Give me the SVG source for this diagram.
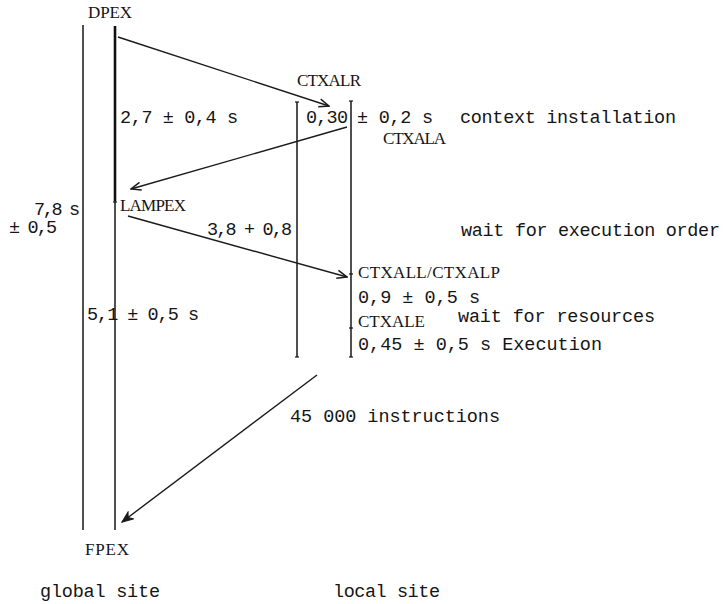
<svg xmlns="http://www.w3.org/2000/svg" width="724" height="604" viewBox="0 0 724 604">
  <style>
    .bg { fill: #ffffff; }
    .life { stroke: #161616; stroke-width: 1.5; fill: none; }
    .thick { stroke: #111111; stroke-width: 2.6; fill: none; }
    .tick { stroke: #161616; stroke-width: 1.2; }
    .msg { stroke: #1a1a1a; stroke-width: 1.4; fill: none; }
    .tt { font-family: "Liberation Mono", "DejaVu Sans Mono", monospace; font-size: 18.5px; fill: #151515; }
    .cap { font-family: "Liberation Serif", "DejaVu Serif", serif; font-size: 17px; fill: #151515; }
  </style>
  <defs>
    <marker id="open" viewBox="0 0 12 10" refX="11" refY="5" markerWidth="12" markerHeight="10" markerUnits="userSpaceOnUse" orient="auto">
      <path d="M1,1 L11,5 L1,9" fill="none" stroke="#1a1a1a" stroke-width="1.5"/>
    </marker>
    <marker id="solid" viewBox="0 0 12 10" refX="11" refY="5" markerWidth="13" markerHeight="11" markerUnits="userSpaceOnUse" orient="auto">
      <path d="M1,1 L11,5 L1,9 L4,5 Z" fill="#1a1a1a" stroke="#1a1a1a" stroke-width="1"/>
    </marker>
  </defs>
  <rect class="bg" x="0" y="0" width="724" height="604"/>

  <!-- global site: outer span line -->
  <g id="global-span">
    <line class="life" x1="83" y1="25" x2="83" y2="530"/>
    <text class="tt" x="34" y="215" textLength="46" lengthAdjust="spacing">7,8 s</text>
    <text class="tt" x="9" y="233" textLength="48" lengthAdjust="spacing">± 0,5</text>
  </g>

  <!-- global site: DPEX / LAMPEX / FPEX process line -->
  <g id="dpex">
    <line class="thick" x1="115" y1="26" x2="115" y2="201"/>
    <line class="life" x1="115" y1="201" x2="115" y2="530"/>
    <line class="tick" x1="113" y1="202" x2="117" y2="202"/>
    <text class="cap" x="88" y="18" textLength="44" lengthAdjust="spacing">DPEX</text>
    <text class="tt" x="120" y="123" textLength="118" lengthAdjust="spacing">2,7 ± 0,4 s</text>
  </g>

  <g id="lampex">
    <text class="cap" x="120" y="211" textLength="66" lengthAdjust="spacing">LAMPEX</text>
    <text class="tt" x="87" y="320" textLength="112" lengthAdjust="spacing">5,1 ± 0,5 s</text>
  </g>

  <g id="fpex">
    <text class="cap" x="85" y="555" textLength="44" lengthAdjust="spacing">FPEX</text>
  </g>

  <!-- local site: context span line -->
  <g id="local-span">
    <line class="life" x1="297" y1="102" x2="297" y2="357"/>
    <line class="tick" x1="295" y1="102" x2="299" y2="102"/>
    <line class="tick" x1="295" y1="357" x2="299" y2="357"/>
    <text class="tt" x="306" y="123" textLength="42" lengthAdjust="spacing">0,30</text>
  </g>

  <!-- local site: CTXAL process line -->
  <g id="ctxal">
    <line class="life" x1="351" y1="101" x2="351" y2="357"/>
    <line class="tick" x1="349" y1="101" x2="353" y2="101"/>
    <line class="tick" x1="349" y1="274" x2="353" y2="274"/>
    <line class="tick" x1="349" y1="328" x2="353" y2="328"/>
    <line class="tick" x1="349" y1="357" x2="353" y2="357"/>
    <text class="cap" x="297" y="86" textLength="64" lengthAdjust="spacing">CTXALR</text>
    <text class="tt" x="357" y="123" textLength="76" lengthAdjust="spacing">± 0,2 s</text>
    <text class="tt" x="460" y="123" textLength="216" lengthAdjust="spacing">context installation</text>
    <text class="cap" x="383" y="144" textLength="63" lengthAdjust="spacing">CTXALA</text>
    <text class="tt" x="461" y="236" textLength="259" lengthAdjust="spacing">wait for execution order</text>
  </g>

  <g id="ctxall">
    <text class="cap" x="358" y="278" textLength="142" lengthAdjust="spacing">CTXALL/CTXALP</text>
    <text class="tt" x="358" y="303" textLength="122" lengthAdjust="spacing">0,9 ± 0,5 s</text>
  </g>

  <g id="ctxale">
    <text class="cap" x="358" y="327" textLength="67" lengthAdjust="spacing">CTXALE</text>
    <text class="tt" x="458" y="322" textLength="197" lengthAdjust="spacing">wait for resources</text>
    <text class="tt" x="358" y="350" textLength="244" lengthAdjust="spacing">0,45 ± 0,5 s Execution</text>
  </g>

  <!-- messages between the sites -->
  <g id="connectors">
    <line class="msg" x1="118" y1="37" x2="329" y2="106" marker-end="url(#open)"/>
    <line class="msg" x1="347" y1="127" x2="131" y2="189" marker-end="url(#open)"/>
    <line class="msg" x1="128" y1="216" x2="347" y2="277" marker-end="url(#open)"/>
    <text class="tt" x="207" y="235" textLength="85" lengthAdjust="spacing">3,8 + 0,8</text>
    <line class="msg" x1="317" y1="375" x2="122" y2="522" marker-end="url(#solid)"/>
    <text class="tt" x="290" y="422" textLength="210" lengthAdjust="spacing">45 000 instructions</text>
  </g>

  <!-- site captions -->
  <g id="captions">
    <text class="tt" x="40" y="597" textLength="120" lengthAdjust="spacing">global site</text>
    <text class="tt" x="333" y="597" textLength="107" lengthAdjust="spacing">local site</text>
  </g>
</svg>
